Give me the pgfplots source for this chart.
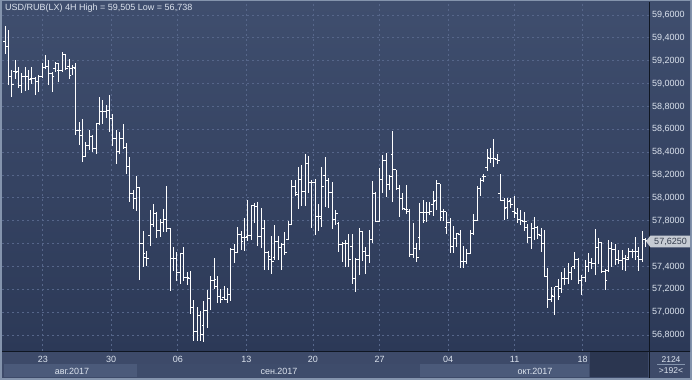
\documentclass[border=0pt]{standalone}
\usepackage{pgfplots}
\pgfplotsset{compat=1.18}
\usepackage{pgfplotstable}
\usepackage{fontspec}
\setmainfont{Liberation Sans}

\definecolor{bgtop}{HTML}{3F4E6E}
\definecolor{bgbot}{HTML}{2C3957}
\definecolor{gridc}{HTML}{56668A}
\definecolor{framec}{HTML}{8494AD}
\definecolor{sepc}{HTML}{0F1622}
\definecolor{txt}{HTML}{DCE3EE}
\definecolor{dayrow}{HTML}{3D4A69}
\definecolor{monA}{HTML}{4B5A7A}
\definecolor{monB}{HTML}{3E4C6B}
\definecolor{future}{HTML}{2B3650}
\definecolor{pbox}{HTML}{C6CBD3}
\definecolor{ptxt}{HTML}{353D4D}

\pgfplotstableread{
i o h l c
0 59.372 59.505 59.255 59.323
1 59.323 59.469 58.987 59.060
2 59.060 59.118 58.885 58.996
3 59.104 59.206 59.045 59.098
4 59.104 59.147 58.958 58.981
5 58.987 59.089 58.914 59.066
6 59.060 59.147 58.934 59.060
7 59.060 59.118 58.943 59.039
8 59.045 59.147 59.001 59.045
9 59.045 59.060 58.905 59.016
10 59.016 59.074 58.923 59.060
11 59.060 59.177 59.045 59.142
12 59.142 59.250 59.133 59.147
13 59.147 59.206 58.987 59.089
14 59.089 59.104 58.923 59.060
15 59.133 59.191 59.104 59.177
16 59.118 59.177 59.016 59.118
17 59.118 59.279 59.104 59.255
18 59.255 59.264 59.118 59.133
19 59.147 59.220 59.045 59.074
20 59.133 59.168 59.074 59.139
21 59.133 59.177 58.549 58.593
22 58.593 58.666 58.461 58.593
23 58.549 58.695 58.315 58.359
24 58.359 58.490 58.359 58.461
25 58.461 58.593 58.417 58.534
26 58.534 58.549 58.403 58.432
27 58.432 58.651 58.388 58.651
28 58.651 58.885 58.636 58.753
29 58.753 58.855 58.651 58.753
30 58.753 58.810 58.702 58.766
31 58.766 58.898 58.576 58.693
32 58.693 58.737 58.454 58.518
33 58.518 58.591 58.299 58.410
34 58.410 58.576 58.381 58.518
35 58.518 58.644 58.430 58.445
36 58.445 58.480 58.206 58.276
37 58.276 58.357 57.963 58.036
38 58.036 58.065 57.905 57.992
39 57.992 58.188 57.884 58.089
40 58.089 58.089 57.277 57.604
41 57.604 57.715 57.394 57.511
42 57.481 57.534 57.408 57.467
43 57.671 57.890 57.575 57.768
44 57.768 57.943 57.744 57.861
45 57.861 57.876 57.651 57.715
46 57.715 57.817 57.657 57.788
47 57.788 57.905 57.700 57.808
48 57.808 58.100 57.700 57.735
49 57.735 57.735 57.189 57.467
50 57.467 57.575 57.365 57.467
51 57.467 57.525 57.277 57.350
52 57.350 57.516 57.248 57.516
53 57.516 57.569 57.277 57.306
54 57.306 57.350 57.242 57.306
55 57.292 57.359 56.985 57.043
56 57.043 57.108 56.751 56.833
57 56.833 57.043 56.745 56.970
58 56.970 57.008 56.751 56.801
59 56.883 57.096 56.738 57.014
60 57.014 57.195 56.862 57.116
61 57.116 57.321 57.020 57.277
62 57.277 57.470 57.200 57.285
63 57.226 57.314 57.080 57.139
64 57.139 57.203 57.080 57.109
65 57.124 57.226 57.109 57.115
66 57.115 57.212 57.080 57.153
67 57.153 57.562 57.095 57.547
68 57.547 57.600 57.431 57.518
69 57.518 57.746 57.518 57.676
70 57.676 57.708 57.547 57.620
71 57.650 57.825 57.533 57.650
72 57.664 57.985 57.620 57.670
73 57.670 57.942 57.635 57.933
74 57.933 57.956 57.781 57.927
75 57.927 57.962 57.577 57.664
76 57.664 57.912 57.562 57.728
77 57.728 57.810 57.372 57.518
78 57.518 57.533 57.372 57.489
79 57.460 57.664 57.337 57.445
80 57.474 57.766 57.460 57.620
81 57.620 57.664 57.460 57.562
82 57.562 57.606 57.372 57.591
83 57.591 57.699 57.504 57.518
84 57.635 57.796 57.635 57.766
85 57.766 58.161 57.766 58.102
86 58.102 58.161 58.015 58.044
87 58.029 58.272 57.904 58.161
88 58.161 58.292 57.927 58.058
89 58.058 58.388 57.927 58.301
90 58.301 58.365 58.044 58.131
91 58.131 58.161 57.737 58.131
92 58.131 58.161 57.679 57.839
93 57.839 57.942 57.708 57.834
94 57.821 58.270 57.748 58.098
95 58.200 58.361 57.923 58.148
96 58.148 58.171 57.914 58.049
97 58.049 58.142 57.733 57.815
98 57.815 57.894 57.762 57.865
99 57.777 57.792 57.529 57.593
100 57.593 57.616 57.441 57.602
101 57.602 57.631 57.397 57.602
102 57.602 57.689 57.397 57.465
103 57.573 57.681 57.251 57.295
104 57.295 57.470 57.173 57.465
105 57.465 57.739 57.330 57.704
106 57.704 57.710 57.447 57.529
107 57.529 57.573 57.339 57.500
108 57.500 57.719 57.427 57.640
109 57.640 58.148 57.602 58.040
110 58.040 58.054 57.792 57.797
111 57.797 58.259 57.792 58.157
112 58.157 58.381 58.040 58.323
113 58.323 58.390 58.011 58.113
114 58.113 58.200 58.069 58.186
115 58.381 58.589 57.961 58.244
116 58.244 58.244 58.069 58.078
117 58.078 58.113 57.835 57.996
118 57.996 58.040 57.894 57.908
119 57.894 58.113 57.856 57.894
120 57.885 57.903 57.485 57.505
121 57.505 57.777 57.476 57.558
122 57.558 57.602 57.441 57.476
123 57.651 57.952 57.543 57.873
124 57.873 57.981 57.777 57.806
125 57.873 57.967 57.792 57.873
126 57.873 57.967 57.850 57.879
127 57.943 58.060 57.841 57.972
128 57.978 58.162 57.899 58.124
129 58.124 58.124 57.797 57.832
130 57.879 57.899 57.797 57.885
131 57.739 57.879 57.680 57.783
132 57.783 57.826 57.520 57.578
133 57.578 57.753 57.520 57.645
134 57.645 57.695 57.569 57.686
135 57.680 57.715 57.383 57.441
136 57.441 57.578 57.383 57.447
137 57.447 57.549 57.418 57.511
138 57.511 57.715 57.505 57.686
139 57.686 57.856 57.675 57.803
140 57.803 58.104 57.797 58.083
141 58.083 58.177 58.016 58.153
142 58.183 58.206 58.142 58.183
143 58.264 58.425 58.235 58.352
144 58.346 58.440 58.308 58.343
145 58.343 58.513 58.270 58.343
146 58.337 58.381 58.299 58.329
147 58.037 58.206 57.972 57.978
148 57.978 58.002 57.803 57.908
149 57.914 57.996 57.812 57.972
150 57.978 58.002 57.914 57.943
151 57.879 58.016 57.821 57.870
152 57.861 57.914 57.783 57.812
153 57.812 57.899 57.768 57.803
154 57.797 57.879 57.710 57.797
155 57.739 57.768 57.607 57.651
156 57.651 57.783 57.558 57.733
157 57.733 57.832 57.637 57.739
158 57.739 57.753 57.637 57.680
159 57.674 57.733 57.528 57.601
160 57.601 57.718 57.309 57.315
161 57.315 57.382 57.032 57.111
162 57.111 57.222 57.090 57.149
163 57.140 57.222 56.974 57.222
164 57.222 57.295 57.105 57.140
165 57.207 57.353 57.169 57.295
166 57.295 57.382 57.236 57.295
167 57.295 57.432 57.251 57.344
168 57.344 57.397 57.280 57.397
169 57.397 57.528 57.382 57.461
170 57.461 57.470 57.251 57.280
171 57.280 57.324 57.149 57.304
172 57.304 57.455 57.266 57.397
173 57.397 57.514 57.353 57.432
174 57.432 57.470 57.374 57.426
175 57.426 57.733 57.324 57.566
176 57.566 57.645 57.426 57.607
177 57.607 57.616 57.339 57.353
178 57.353 57.382 57.198 57.274
179 57.368 57.631 57.353 57.558
180 57.558 57.616 57.397 57.549
181 57.549 57.601 57.412 57.461
182 57.461 57.543 57.426 57.455
183 57.455 57.543 57.368 57.470
184 57.470 57.499 57.362 57.461
185 57.479 57.558 57.461 57.528
186 57.528 57.549 57.470 57.528
187 57.528 57.660 57.461 57.528
188 57.485 57.572 57.362 57.461
189 57.461 57.712 57.441 57.636
190 57.636 57.645 57.572 57.625
}\ohlc

\begin{document}
\begin{tikzpicture}
% backgrounds in pixel coordinates (origin top-left of image)
\begin{scope}[x=1pt,y=-1pt,shift={(-2pt,351pt)}]
  \fill[framec] (0,0) rectangle (692,380);
  \shade[top color=bgtop,bottom color=bgbot] (2,2) rectangle (690,351);
  \fill[dayrow] (2,351) rectangle (690,378);
  \fill[monA] (4,364) rectangle (137,377);
  \fill[monB] (137,364) rectangle (420,377);
  \fill[monA] (420,364) rectangle (589,377);
  \fill[future] (590,352) rectangle (648,377);
\end{scope}

\begin{axis}[
  at={(0pt,0pt)}, anchor=south west,
  scale only axis, width=647pt, height=349pt,
  xmin=-0.89, xmax=190.98, ymin=56.660, ymax=59.714,
  enlargelimits=false, clip=true,
  axis line style={draw=none},
  major tick length=0pt,
  grid=major,
  grid style={gridc, line width=0.8pt, dash pattern=on 2pt off 3pt},
  xtick={11.21,31.49,51.25,71.56,91.31,111.06,131.38,151.12,171.26},
  xticklabels={23,30,06,13,20,27,04,11,18},
  ytick={56.8,57.0,57.2,57.4,57.6,57.8,58.0,58.2,58.4,58.6,58.8,59.0,59.2,59.4,59.6},
  yticklabels={{56,8000},{57,0000},{57,2000},{57,4000},{},{57,8000},{58,0000},{58,2000},{58,4000},{58,6000},{58,8000},{59,0000},{59,2000},{59,4000},{59,6000}},
  yticklabel pos=right,
  tick label style={font=\fontsize{9}{10}\selectfont, text=txt},
  xticklabel style={anchor=base, yshift=-11.5pt},
  yticklabel style={anchor=west, inner sep=0pt, xshift=3pt},
  scaled y ticks=false,
]
% high-low ranges
\addplot[draw=none, mark=none,
  error bars/.cd, y dir=both, y explicit, error mark=none,
  error bar style={draw=white, solid, line width=1pt}]
  table[x=i, y expr={(\thisrow{h}+\thisrow{l})/2},
        y error expr={(\thisrow{h}-\thisrow{l})/2}] {\ohlc};
% open ticks (left)
\addplot[only marks, mark=-, mark size=1.1pt, mark options={draw=white, line width=1pt}]
  table[x expr={\thisrow{i}-0.33}, y=o] {\ohlc};
% close ticks (right)
\addplot[only marks, mark=-, mark size=1.1pt, mark options={draw=white, line width=1pt}]
  table[x expr={\thisrow{i}+0.33}, y=c] {\ohlc};
\end{axis}

% overlays in pixel coordinates
\begin{scope}[x=1pt,y=-1pt,shift={(-2pt,351pt)}]
  \draw[sepc, line width=1pt] (649.5,2) -- (649.5,378);
  \draw[sepc, line width=1pt] (2,351.5) -- (690,351.5);
  \node[anchor=base west, inner sep=0pt, text=txt, font=\fontsize{9}{10}\selectfont]
    at (5,10.5) {USD/RUB(LX) 4H High = 59,505 Low = 56,738};
  \node[anchor=base, inner sep=0pt, text=txt, font=\fontsize{9}{10}\selectfont] at (72,374) {авг.2017};
  \node[anchor=base, inner sep=0pt, text=txt, font=\fontsize{9}{10}\selectfont] at (279,374) {сен.2017};
  \node[anchor=base, inner sep=0pt, text=txt, font=\fontsize{9}{10}\selectfont] at (535,374) {окт.2017};
  \node[anchor=base, inner sep=0pt, text=txt, font=\fontsize{8.5}{10}\selectfont] at (671,362.5) {2124};
  \draw[framec, line width=0.8pt] (657,364.5) -- (685,364.5);
  \node[anchor=base, inner sep=0pt, text=txt, font=\fontsize{8.5}{10}\selectfont] at (671,373.5) {>192<};
  \fill[pbox] (646,241.3) -- (650.5,235.5) -- (690,235.5) -- (690,247.3) -- (650.5,247.3) -- cycle;
  \node[anchor=center, inner sep=0pt, text=ptxt, font=\fontsize{9}{10}\selectfont] at (670.5,241.5) {57,6250};
\end{scope}
\pgfresetboundingbox
\path (-2pt,351pt) rectangle (690pt,-29pt);
\end{tikzpicture}
\end{document}
